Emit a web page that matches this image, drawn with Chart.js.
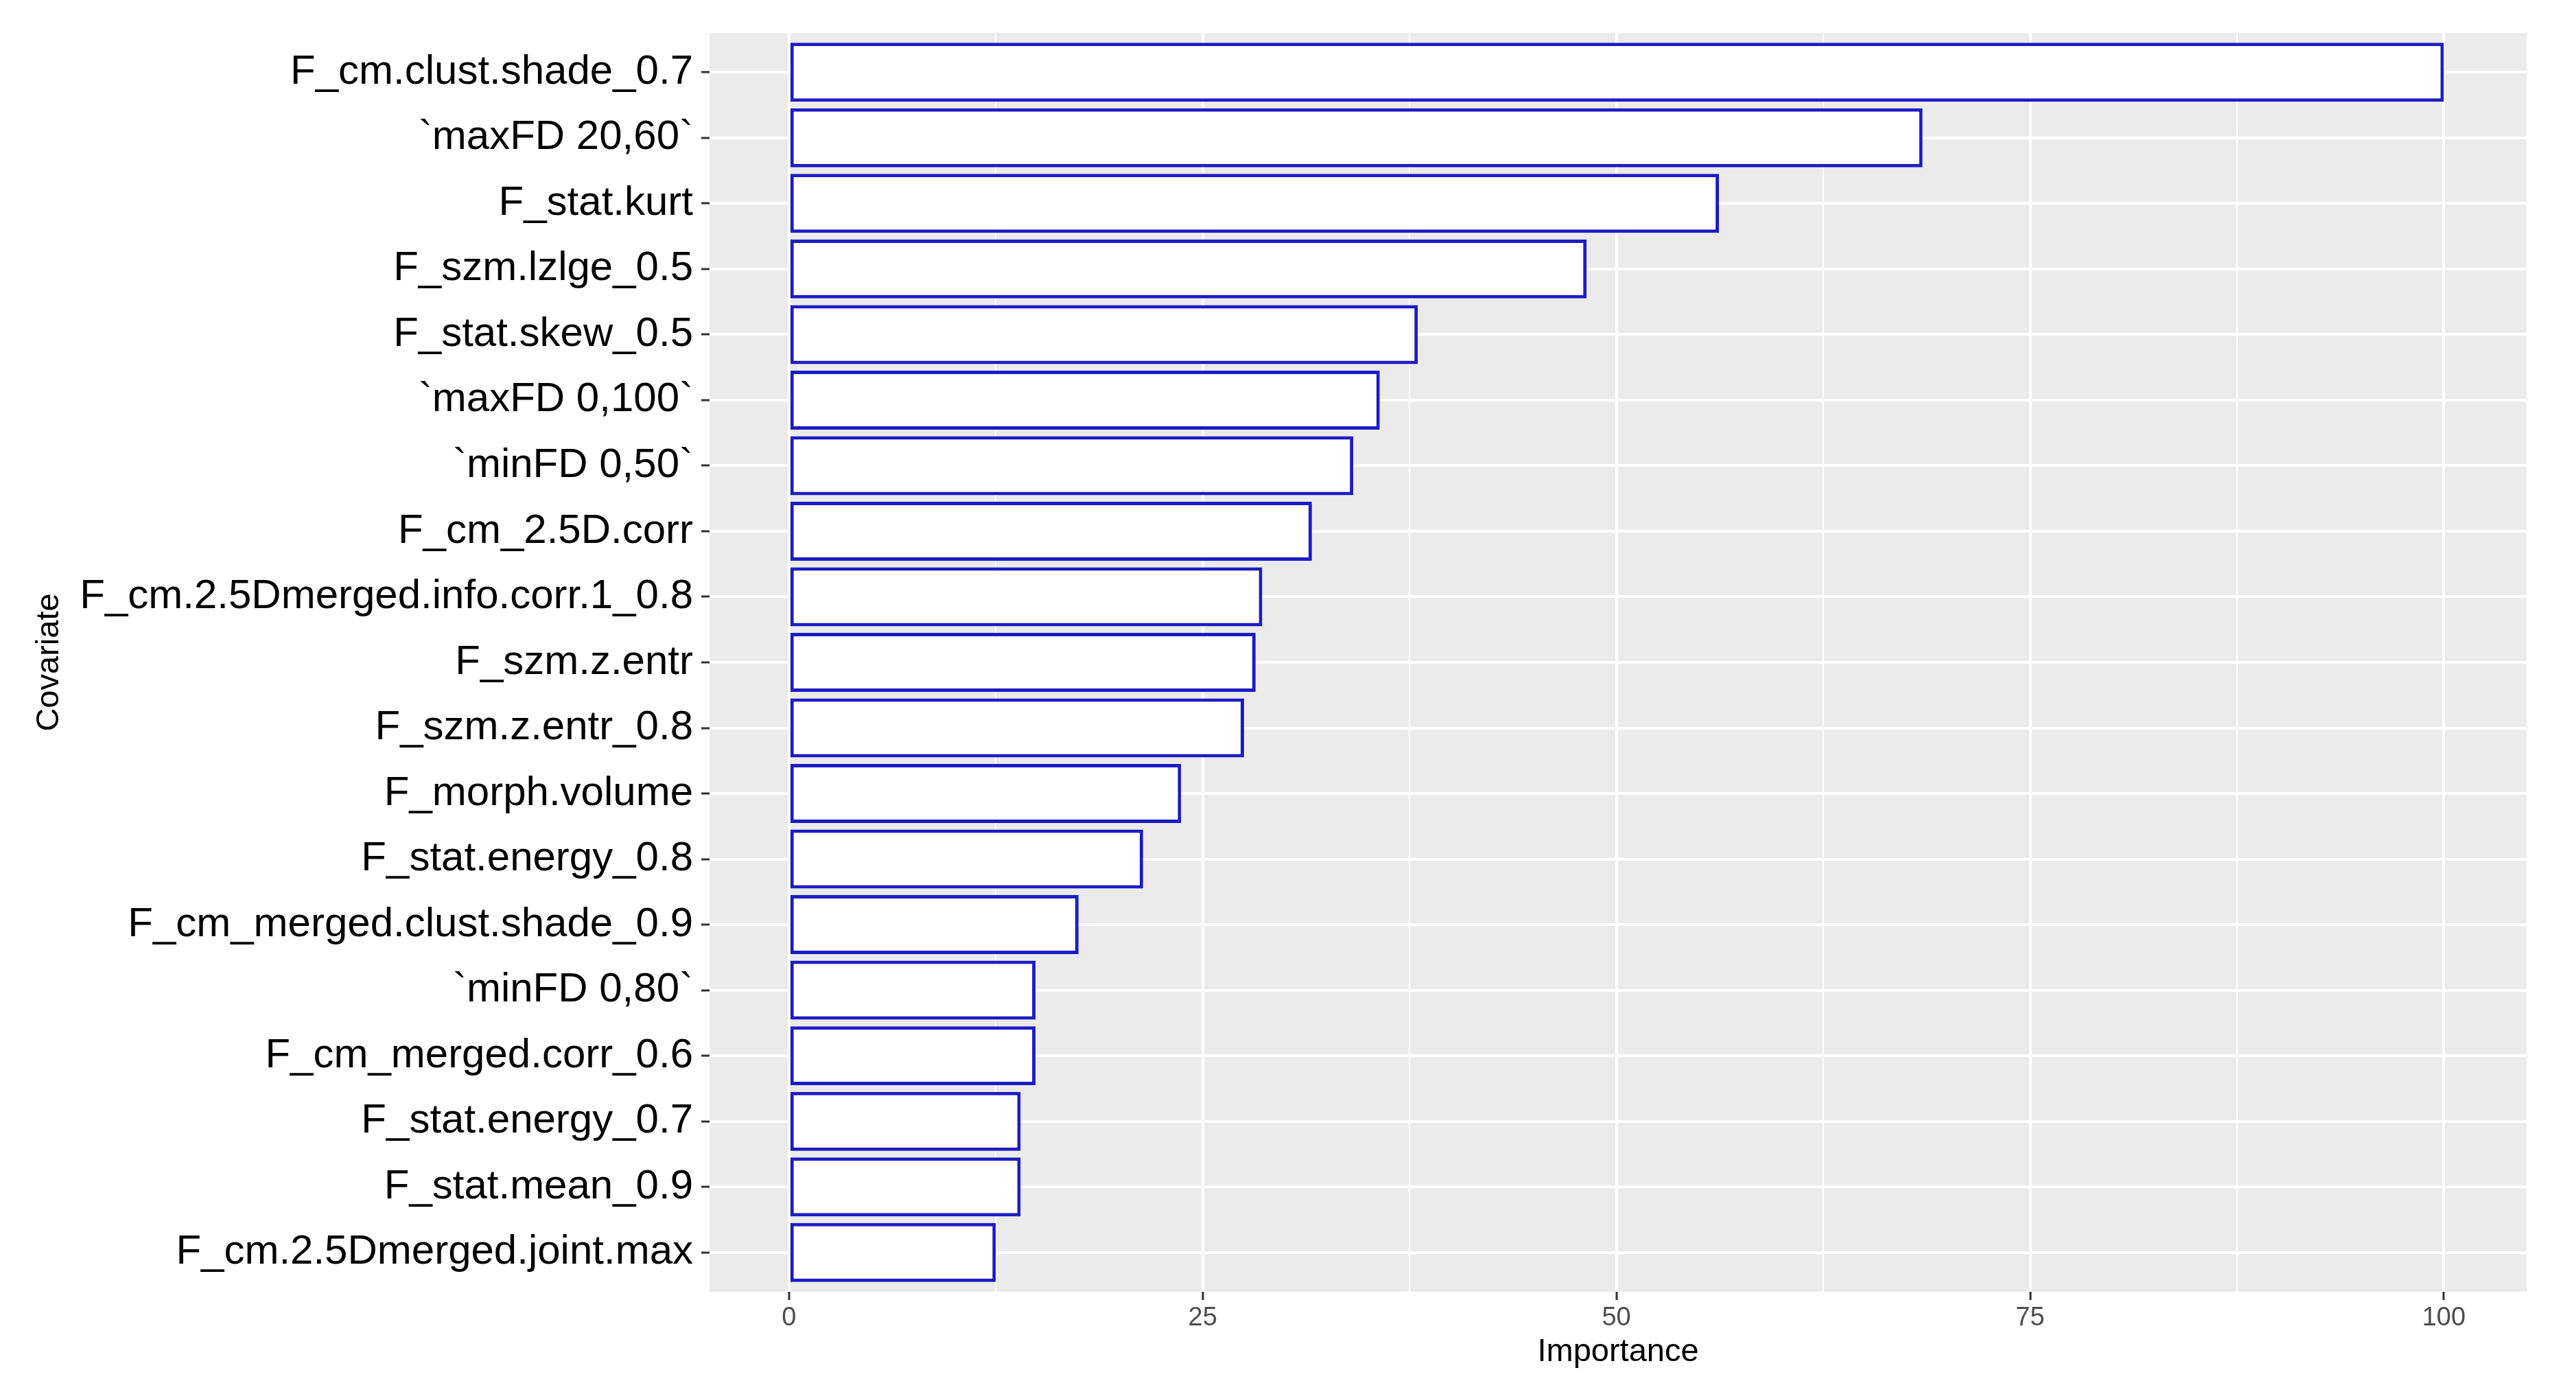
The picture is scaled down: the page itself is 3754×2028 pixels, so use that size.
<!DOCTYPE html>
<html>
<head>
<meta charset="utf-8">
<title>Covariate importance</title>
<script src="https://cdn.jsdelivr.net/npm/chart.js@4"></script>
<style>
  html, body { margin: 0; padding: 0; background: #ffffff; }
  canvas { display: block; }
</style>
</head>
<body>
<canvas id="impChart" width="3754" height="2028"></canvas>
<script>
// Variable importance (ggplot style), top to bottom
const covariates = [
    'F_cm.clust.shade_0.7',
    '`maxFD 20,60`',
    'F_stat.kurt',
    'F_szm.lzlge_0.5',
    'F_stat.skew_0.5',
    '`maxFD 0,100`',
    '`minFD 0,50`',
    'F_cm_2.5D.corr',
    'F_cm.2.5Dmerged.info.corr.1_0.8',
    'F_szm.z.entr',
    'F_szm.z.entr_0.8',
    'F_morph.volume',
    'F_stat.energy_0.8',
    'F_cm_merged.clust.shade_0.9',
    '`minFD 0,80`',
    'F_cm_merged.corr_0.6',
    'F_stat.energy_0.7',
    'F_stat.mean_0.9',
    'F_cm.2.5Dmerged.joint.max'
];
const importance = [100, 68.5, 56.2, 48.2, 38.0, 35.7, 34.1, 31.6, 28.6, 28.2, 27.5, 23.7, 21.4, 17.5, 14.9, 14.9, 14.0, 14.0, 12.5];
const xTicks = [0, 25, 50, 75, 100];

const FONT = "'Liberation Sans', Arial, Helvetica, sans-serif";

// grey panel behind the grid
const panelBg = {
    id: 'panelBg',
    beforeDraw(chart) {
        const {ctx, chartArea: a} = chart;
        ctx.save();
        ctx.fillStyle = '#ffffff';
        ctx.fillRect(0, 0, chart.width, chart.height);
        ctx.fillStyle = '#EBEBEB';
        ctx.fillRect(a.left, a.top, a.right - a.left, a.bottom - a.top);
        ctx.restore();
    }
};

const isMajor = v => xTicks.includes(v);

const ctx = document.getElementById('impChart').getContext('2d');
new Chart(ctx, {
    type: 'bar',
    data: {
        datasets: [{
            label: 'Importance',
            data: importance.map((v, i) => ({x: v, y: i})),
            backgroundColor: '#ffffff',
            borderColor: '#1c1cc4',
            borderWidth: 5,
            borderSkipped: false,
            barPercentage: 0.9,
            categoryPercentage: 1.0
        }]
    },
    options: {
        indexAxis: 'y',
        responsive: false,
        animation: false,
        devicePixelRatio: 1,
        layout: {
            padding: {left: 0, right: 72, top: 43, bottom: 0}
        },
        plugins: {
            legend: {display: false},
            tooltip: {enabled: false}
        },
        scales: {
            x: {
                type: 'linear',
                min: -4.8,
                max: 105,
                offset: false,
                border: {display: false},
                afterFit(scale) { scale.height = 146; },
                grid: {
                    offset: false,
                    color: '#ffffff',
                    lineWidth: c => isMajor(c.tick.value) ? 4 : 2,
                    tickColor: c => isMajor(c.tick.value) ? '#333333' : 'rgba(0,0,0,0)',
                    tickLength: 12,
                    tickWidth: 3
                },
                ticks: {
                    stepSize: 12.5,
                    includeBounds: false,
                    autoSkip: false,
                    maxRotation: 0,
                    padding: 4,
                    color: '#4D4D4D',
                    font: {family: FONT, size: 38},
                    callback: v => isMajor(v) ? String(v) : ''
                },
                title: {
                    display: true,
                    text: 'Importance',
                    color: '#000000',
                    font: {family: FONT, size: 47},
                    padding: {top: 0, bottom: 30}
                }
            },
            y: {
                type: 'linear',
                reverse: true,
                min: -0.6,
                max: 18.6,
                offset: false,
                border: {display: false},
                afterFit(scale) { scale.width = 1034; },
                grid: {
                    offset: false,
                    color: '#ffffff',
                    lineWidth: 4,
                    tickColor: '#333333',
                    tickLength: 12,
                    tickWidth: 3
                },
                ticks: {
                    stepSize: 1,
                    includeBounds: false,
                    autoSkip: false,
                    padding: 12,
                    color: '#000000',
                    font: {family: FONT, size: 60},
                    callback: v => covariates[v] !== undefined ? covariates[v] : ''
                },
                title: {
                    display: true,
                    text: 'Covariate',
                    color: '#000000',
                    font: {family: FONT, size: 47},
                    padding: {top: 44, bottom: 0}
                }
            }
        }
    },
    plugins: [panelBg]
});
</script>
</body>
</html>
